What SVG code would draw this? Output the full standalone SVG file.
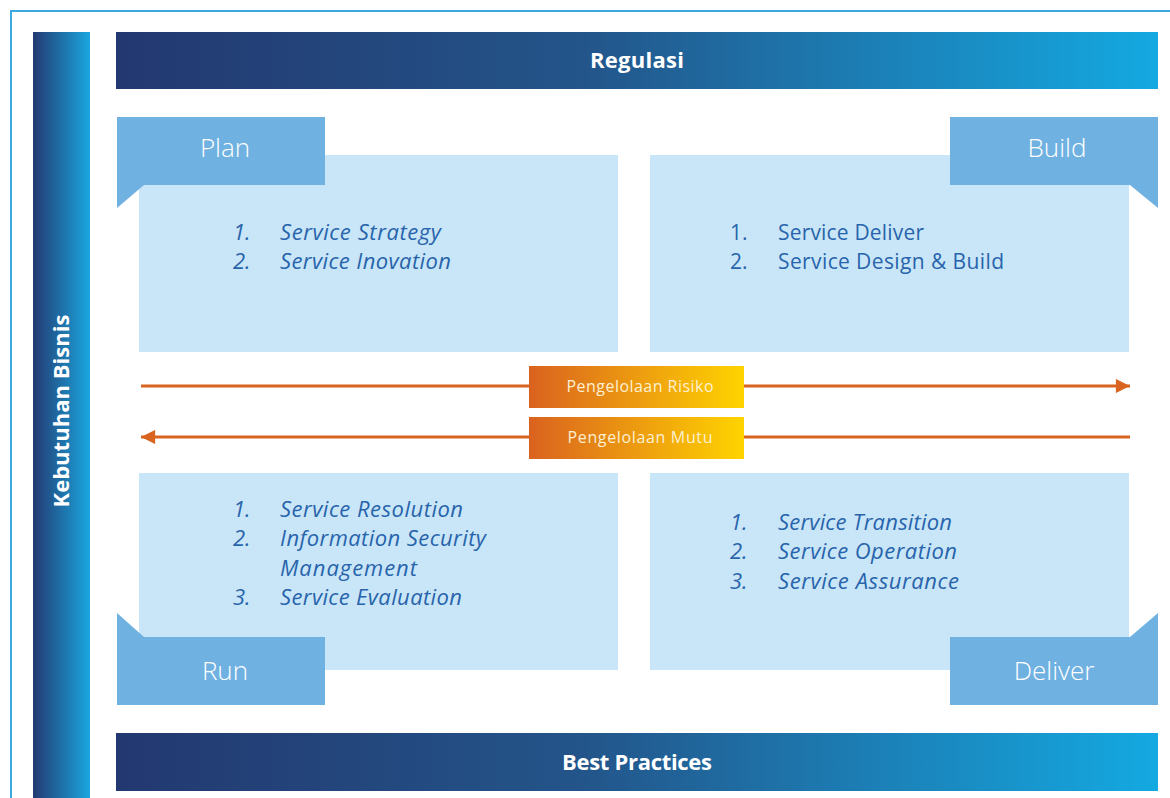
<svg xmlns="http://www.w3.org/2000/svg" width="1170" height="798" viewBox="0 0 1170 798">
<defs>
<linearGradient id="gBar" x1="0" y1="0" x2="1" y2="0">
<stop offset="0" stop-color="#233870"/>
<stop offset="0.45" stop-color="#23558a"/>
<stop offset="1" stop-color="#14a9e1"/>
</linearGradient>
<linearGradient id="gSide" x1="0" y1="0" x2="1" y2="0">
<stop offset="0" stop-color="#243a72"/>
<stop offset="1" stop-color="#1aa6de"/>
</linearGradient>
<linearGradient id="gOrange" x1="0" y1="0" x2="1" y2="0">
<stop offset="0" stop-color="#da621f"/>
<stop offset="1" stop-color="#ffd400"/>
</linearGradient>
<marker id="ah" viewBox="0 0 10 10" refX="10" refY="5" markerWidth="6.3" markerHeight="4.7" markerUnits="strokeWidth" orient="auto">
<path d="M0,0 L10,5 L0,10 Z" fill="#d9641f"/>
</marker>
<style>
.panel{fill:#c9e6f8}
.tab{fill:#6fb1e1}
.tabt{font-family:"Open Sans","Noto Sans",sans-serif;font-size:26px;font-weight:300;fill:#ffffff;text-anchor:middle}
.bart{font-family:"Open Sans","Noto Sans",sans-serif;font-size:22px;font-weight:700;fill:#ffffff;text-anchor:middle}
.li{font-family:"Open Sans","Noto Sans",sans-serif;font-size:21px;fill:#2864ab}
.it{font-style:italic;font-size:22px}
.ot{font-family:"Open Sans","Noto Sans",sans-serif;font-size:16px;fill:#fdf0d2;text-anchor:middle}
.arr{stroke:#d9641f;stroke-width:3;fill:none;marker-end:url(#ah)}
</style>
</defs>
<rect x="0" y="0" width="1170" height="798" fill="#ffffff"/>
<rect x="11" y="11" width="1170" height="800" fill="none" stroke="#3ea8e0" stroke-width="2"/>

<g id="kebutuhan">
<rect x="33" y="32" width="57" height="770" fill="url(#gSide)"/>
<text class="bart" transform="translate(69,411) rotate(-90)" textLength="193" lengthAdjust="spacing">Kebutuhan Bisnis</text>
</g>
<g id="regulasi">
<rect x="116" y="32" width="1042" height="57" fill="url(#gBar)"/>
<text class="bart" x="637" y="68" textLength="94" lengthAdjust="spacing">Regulasi</text>
</g>
<g id="bestpractices">
<rect x="116" y="733" width="1042" height="58" fill="url(#gBar)"/>
<text class="bart" x="637" y="770" textLength="150" lengthAdjust="spacing">Best Practices</text>
</g>

<g id="plan">
<rect class="panel" x="139" y="155" width="479" height="197"/>
<rect class="tab" x="117" y="117" width="208" height="68"/>
<path class="tab" d="M117,185 L144,185 L117,208 Z"/>
<text class="tabt" x="225" y="157">Plan</text>
<text class="li it" x="233" y="240">1.</text><text class="li it" x="280" y="240" textLength="161" lengthAdjust="spacing">Service Strategy</text>
<text class="li it" x="233" y="269">2.</text><text class="li it" x="280" y="269" textLength="171" lengthAdjust="spacing">Service Inovation</text>
</g>

<g id="build">
<rect class="panel" x="650" y="155" width="479" height="197"/>
<rect class="tab" x="950" y="117" width="208" height="68"/>
<path class="tab" d="M1130,185 L1158,185 L1158,208 Z"/>
<text class="tabt" x="1057" y="157">Build</text>
<text class="li" x="730" y="240">1.</text><text class="li" x="778" y="240" textLength="146" lengthAdjust="spacing">Service Deliver</text>
<text class="li" x="730" y="269">2.</text><text class="li" x="778" y="269" textLength="226" lengthAdjust="spacing">Service Design &amp; Build</text>
</g>

<g id="run">
<rect class="panel" x="139" y="473" width="479" height="197"/>
<rect class="tab" x="117" y="637" width="208" height="68"/>
<path class="tab" d="M117,613 L144,637 L117,637 Z"/>
<text class="tabt" x="225" y="680">Run</text>
<text class="li it" x="233" y="517">1.</text><text class="li it" x="280" y="517" textLength="183" lengthAdjust="spacing">Service Resolution</text>
<text class="li it" x="233" y="546">2.</text><text class="li it" x="280" y="546" textLength="206" lengthAdjust="spacing">Information Security</text>
<text class="li it" x="280" y="576" textLength="137" lengthAdjust="spacing">Management</text>
<text class="li it" x="233" y="605">3.</text><text class="li it" x="280" y="605" textLength="182" lengthAdjust="spacing">Service Evaluation</text>
</g>

<g id="deliver">
<rect class="panel" x="650" y="473" width="479" height="197"/>
<rect class="tab" x="950" y="637" width="208" height="68"/>
<path class="tab" d="M1130,637 L1158,613 L1158,637 Z"/>
<text class="tabt" x="1054" y="680">Deliver</text>
<text class="li it" x="730" y="530">1.</text><text class="li it" x="778" y="530" textLength="174" lengthAdjust="spacing">Service Transition</text>
<text class="li it" x="730" y="559">2.</text><text class="li it" x="778" y="559" textLength="179" lengthAdjust="spacing">Service Operation</text>
<text class="li it" x="730" y="589">3.</text><text class="li it" x="778" y="589" textLength="181" lengthAdjust="spacing">Service Assurance</text>
</g>

<g id="connectors">
<line class="arr" x1="141" y1="386" x2="1130" y2="386"/>
<line class="arr" x1="1130" y1="437" x2="141" y2="437"/>
</g>

<g id="risiko">
<rect x="529" y="366" width="215" height="42" fill="url(#gOrange)"/>
<text class="ot" x="640" y="392" textLength="147" lengthAdjust="spacing">Pengelolaan Risiko</text>
</g>
<g id="mutu">
<rect x="529" y="417" width="215" height="42" fill="url(#gOrange)"/>
<text class="ot" x="640" y="443" textLength="145" lengthAdjust="spacing">Pengelolaan Mutu</text>
</g>
</svg>
